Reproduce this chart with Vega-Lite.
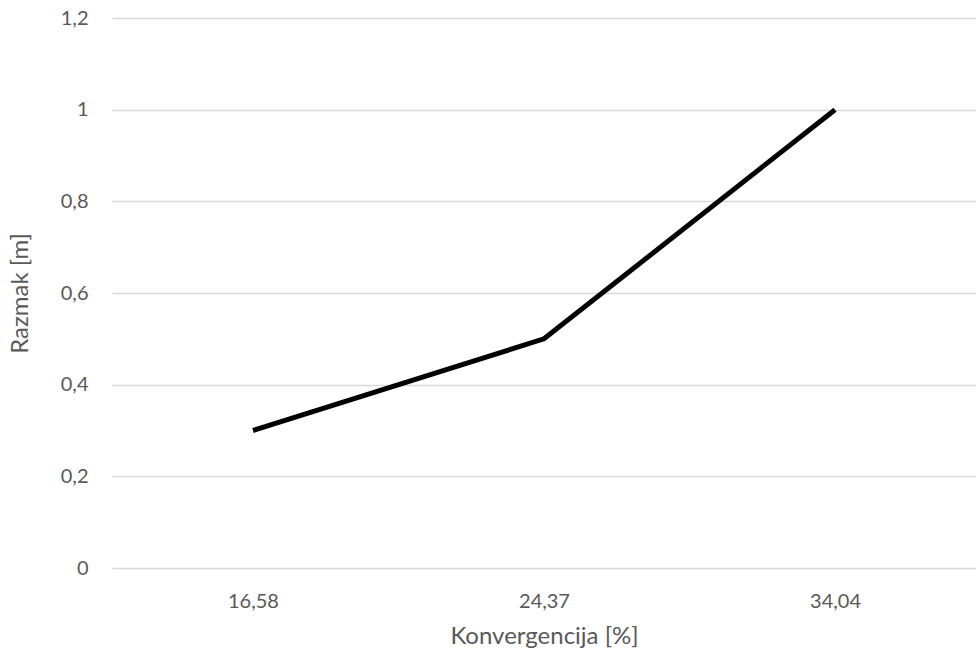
{
  "$schema": "https://vega.github.io/schema/vega-lite/v6.json",
  "autosize": {"type": "none"},
  "width": 864,
  "height": 550,
  "padding": {"left": 112, "top": 18, "right": 0, "bottom": 86},
  "background": "white",
  "config": {
    "view": {"stroke": null},
    "font": "Lato"
  },
  "data": {
    "values": [
      {"konv": "16,58", "razmak": 0.3},
      {"konv": "24,37", "razmak": 0.5},
      {"konv": "34,04", "razmak": 1.0}
    ]
  },
  "mark": {"type": "line", "color": "#000000", "strokeWidth": 5, "strokeCap": "butt", "strokeJoin": "miter"},
  "encoding": {
    "x": {
      "field": "konv",
      "type": "ordinal",
      "sort": null,
      "scale": {"type": "point", "padding": 0.4845},
      "axis": {
        "title": "Konvergencija [%]",
        "titleFontSize": 24,
        "titleFontWeight": "normal",
        "titleColor": "#595959",
        "titlePadding": 13,
        "labelFontSize": 20,
        "labelColor": "#595959",
        "labelPadding": 23,
        "labelAngle": 0,
        "domain": false,
        "ticks": false,
        "grid": false
      }
    },
    "y": {
      "field": "razmak",
      "type": "quantitative",
      "scale": {"domain": [0, 1.2], "nice": false},
      "axis": {
        "title": "Razmak [m]",
        "titleFontSize": 24,
        "titleFontWeight": "normal",
        "titleColor": "#595959",
        "titlePadding": 28,
        "values": [0, 0.2, 0.4, 0.6, 0.8, 1.0, 1.2],
        "labelExpr": "replace(format(datum.value, '.1~f'), '.', ',')",
        "labelFontSize": 20,
        "labelColor": "#595959",
        "labelPadding": 24,
        "domain": false,
        "ticks": false,
        "grid": true,
        "gridColor": "#d9d9d9",
        "gridWidth": 1.3
      }
    }
  }
}
